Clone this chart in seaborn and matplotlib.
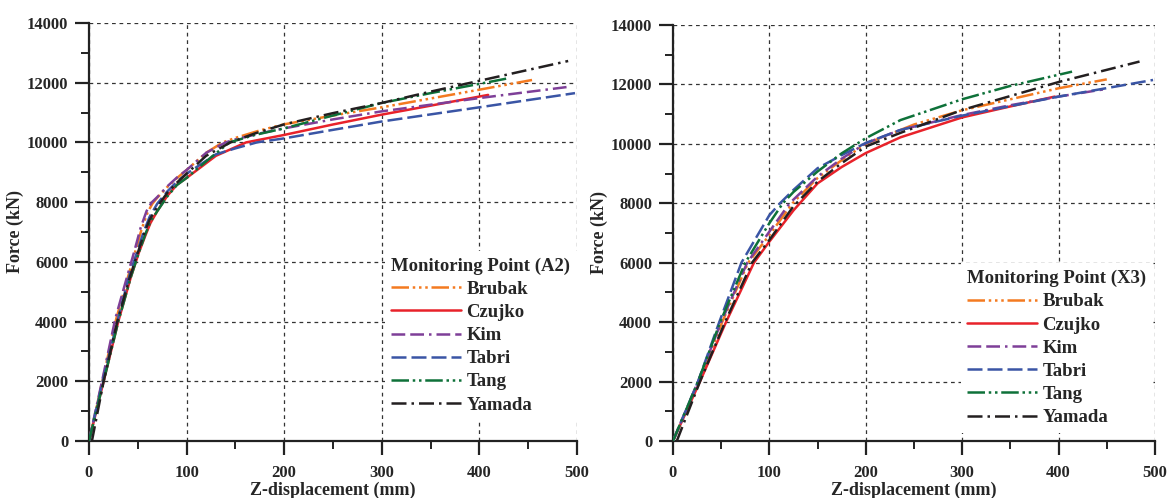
import numpy as np
import pandas as pd
import matplotlib
matplotlib.use("Agg")
import matplotlib.pyplot as plt
from matplotlib.ticker import MultipleLocator
import seaborn as sns

# ---- Load-displacement curves, monitoring point A2 (displacement mm, force kN) ----
a2_brubak_x = [0, 14, 28, 40, 47, 54, 60, 65, 70, 80, 90, 100, 120, 137, 150, 175, 200, 250, 300, 350, 400, 454]
a2_brubak_f = [0, 2050, 4100, 5500, 6300, 7100, 7650, 7950, 8150, 8500, 8800, 9075, 9650, 10000, 10150, 10400, 10605, 10900, 11175, 11470, 11765, 12090]
a2_czujko_x = [0, 15, 30, 43, 51, 58, 63, 70, 80, 90, 100, 130, 161, 200, 250, 300, 350, 409]
a2_czujko_f = [0, 2000, 4000, 5500, 6300, 6900, 7300, 7700, 8200, 8580, 8810, 9550, 10000, 10250, 10600, 10930, 11230, 11590]
a2_kim_x = [0, 14, 27, 39, 46, 53, 59, 64, 70, 80, 90, 100, 120, 140, 150, 175, 200, 250, 300, 400, 490]
a2_kim_f = [0, 2100, 4100, 5500, 6300, 7150, 7700, 7980, 8170, 8520, 8820, 9075, 9650, 10000, 10100, 10300, 10470, 10770, 11040, 11484, 11855]
a2_tabri_x = [0, 14, 29, 41, 49, 56, 62, 70, 80, 90, 100, 130, 150, 172, 200, 250, 300, 400, 498]
a2_tabri_f = [0, 2000, 4000, 5500, 6300, 7000, 7500, 7950, 8350, 8680, 8950, 9600, 9800, 10000, 10135, 10420, 10700, 11175, 11650]
a2_tang_x = [0, 15, 30, 43, 51, 58, 63, 70, 80, 90, 100, 125, 144, 170, 200, 250, 300, 350, 400, 430]
a2_tang_f = [0, 2000, 4000, 5500, 6300, 6950, 7350, 7700, 8180, 8570, 8810, 9500, 10000, 10250, 10470, 10900, 11320, 11650, 11960, 12150]
a2_yamada_x = [3, 15, 29, 42, 50, 57, 62, 70, 80, 90, 100, 120, 145, 170, 200, 250, 300, 350, 400, 491]
a2_yamada_f = [0, 2000, 4000, 5500, 6300, 7000, 7400, 7850, 8300, 8650, 8950, 9550, 10000, 10300, 10605, 10980, 11320, 11700, 12063, 12726]

# ---- Load-displacement curves, monitoring point X3 ----
x3_brubak_x = [0, 27, 51, 78, 100, 124, 150, 175, 200, 250, 300, 350, 400, 450]
x3_brubak_f = [0, 2000, 4000, 6000, 6930, 8000, 8850, 9450, 10000, 10650, 11130, 11500, 11870, 12170]
x3_czujko_x = [0, 28, 55, 84, 100, 125, 150, 175, 200, 236, 300, 350, 396]
x3_czujko_f = [0, 2000, 4000, 6000, 6710, 7760, 8670, 9220, 9690, 10220, 10890, 11260, 11590]
x3_kim_x = [0, 26, 50, 77, 100, 121, 150, 175, 200, 236, 300, 350, 400, 446]
x3_kim_f = [0, 2000, 4000, 6000, 7045, 8000, 8900, 9500, 10020, 10470, 10970, 11300, 11590, 11830]
x3_tabri_x = [0, 26, 48, 71, 100, 111, 125, 150, 175, 200, 236, 300, 400, 498]
x3_tabri_f = [0, 2000, 4000, 6000, 7600, 8000, 8450, 9180, 9620, 10030, 10470, 10950, 11590, 12150]
x3_tang_x = [0, 26, 49, 75, 100, 114, 125, 150, 175, 200, 236, 300, 350, 414]
x3_tang_f = [0, 2000, 4000, 6000, 7330, 8000, 8380, 9070, 9680, 10190, 10800, 11500, 11950, 12430]
x3_yamada_x = [4, 28, 54, 82, 100, 125, 150, 175, 200, 236, 300, 400, 484]
x3_yamada_f = [0, 2000, 4000, 6000, 6765, 7900, 8730, 9350, 9910, 10370, 11140, 12080, 12770]

models = ["Brubak", "Czujko", "Kim", "Tabri", "Tang", "Yamada"]
x_ticks = [0, 100, 200, 300, 400, 500]
y_ticks = [0, 2000, 4000, 6000, 8000, 10000, 12000, 14000]

colors = {
    "Brubak": "#F47A20",
    "Czujko": "#E8222A",
    "Kim": "#7E3F98",
    "Tabri": "#3A55A5",
    "Tang": "#0E7139",
    "Yamada": "#231F20",
}
dashes = {
    "Brubak": (7, 1.5, 1, 1.5, 1, 1.5, 1, 1.5),
    "Czujko": "",
    "Kim": (5.5, 2, 5.5, 2, 1, 2),
    "Tabri": (6, 2),
    "Tang": (7, 1.5, 1, 1.5, 1, 1.5),
    "Yamada": (6, 2, 1, 2),
}


def build_frame(xs, fs):
    rows = []
    for name, x, f in zip(models, xs, fs):
        for xi, fi in zip(x, f):
            rows.append((name, xi, fi))
    return pd.DataFrame(rows, columns=["model", "disp", "force"])


df_a2 = build_frame(
    [a2_brubak_x, a2_czujko_x, a2_kim_x, a2_tabri_x, a2_tang_x, a2_yamada_x],
    [a2_brubak_f, a2_czujko_f, a2_kim_f, a2_tabri_f, a2_tang_f, a2_yamada_f],
)
df_x3 = build_frame(
    [x3_brubak_x, x3_czujko_x, x3_kim_x, x3_tabri_x, x3_tang_x, x3_yamada_x],
    [x3_brubak_f, x3_czujko_f, x3_kim_f, x3_tabri_f, x3_tang_f, x3_yamada_f],
)

sns.set_style("white")
plt.rcParams["font.family"] = ["Liberation Serif", "DejaVu Serif"]
plt.rcParams["font.weight"] = "bold"
plt.rcParams["axes.labelweight"] = "bold"

fig = plt.figure(figsize=(11.71, 4.98), dpi=100)
ax1 = fig.add_axes([0.0760, 0.1145, 0.4167, 0.8394])
ax2 = fig.add_axes([0.5747, 0.1145, 0.4116, 0.8353])


def draw_panel(ax, df, title, legend_anchor):
    sns.lineplot(
        data=df, x="disp", y="force", hue="model", style="model",
        hue_order=models, style_order=models, palette=colors, dashes=dashes,
        estimator=None, sort=False, linewidth=1.8, legend=False, ax=ax, zorder=3,
    )
    for line in ax.get_lines():
        line.set_solid_joinstyle("round")
        line.set_dash_joinstyle("round")
    ax.set_xlim(0, 500)
    ax.set_ylim(0, 14000)
    ax.set_xticks(x_ticks)
    ax.set_yticks(y_ticks)
    ax.xaxis.set_minor_locator(MultipleLocator(50))
    ax.yaxis.set_minor_locator(MultipleLocator(1000))
    ax.grid(True, which="major", color="#333333", linestyle=(0, (3, 3)), linewidth=0.9)
    ax.set_axisbelow(True)
    for side in ("top", "right"):
        ax.spines[side].set_visible(False)
    for side in ("left", "bottom"):
        ax.spines[side].set_linewidth(1.6)
        ax.spines[side].set_color("#222222")
    ax.tick_params(which="major", direction="out", length=10, width=1.6,
                   labelsize=12, color="#222222", left=True, bottom=True)
    ax.tick_params(axis="x", which="major", pad=7)
    ax.tick_params(axis="y", which="major", pad=5)
    ax.tick_params(which="minor", direction="out", length=5.5, width=1.4,
                   color="#222222", left=True, bottom=True)
    for lbl in ax.get_xticklabels() + ax.get_yticklabels():
        lbl.set_fontweight("bold")
    ax.set_xlabel("Z-displacement (mm)", fontsize=13, fontweight="bold", labelpad=1)
    ax.set_ylabel("Force (kN)", fontsize=13, fontweight="bold", labelpad=2)

    handles = ax.get_lines()[:len(models)]
    leg = ax.legend(
        handles, models, title=title, loc="lower right",
        bbox_to_anchor=legend_anchor, borderaxespad=0,
        frameon=True, fancybox=False, framealpha=1, edgecolor="none",
        prop={"size": 13.5, "weight": "bold"},
        title_fontproperties={"size": 13.5, "weight": "bold"},
        handlelength=3.7, handletextpad=0.3, labelspacing=0.32,
        borderpad=0.35,
    )
    leg._legend_box.align = "left"
    leg.set_zorder(5)


draw_panel(ax1, df_a2, "Monitoring Point (A2)", (1.0, 0.05))
draw_panel(ax2, df_x3, "Monitoring Point (X3)", (0.996, 0.02))

fig.savefig("out.png", dpi=100)
